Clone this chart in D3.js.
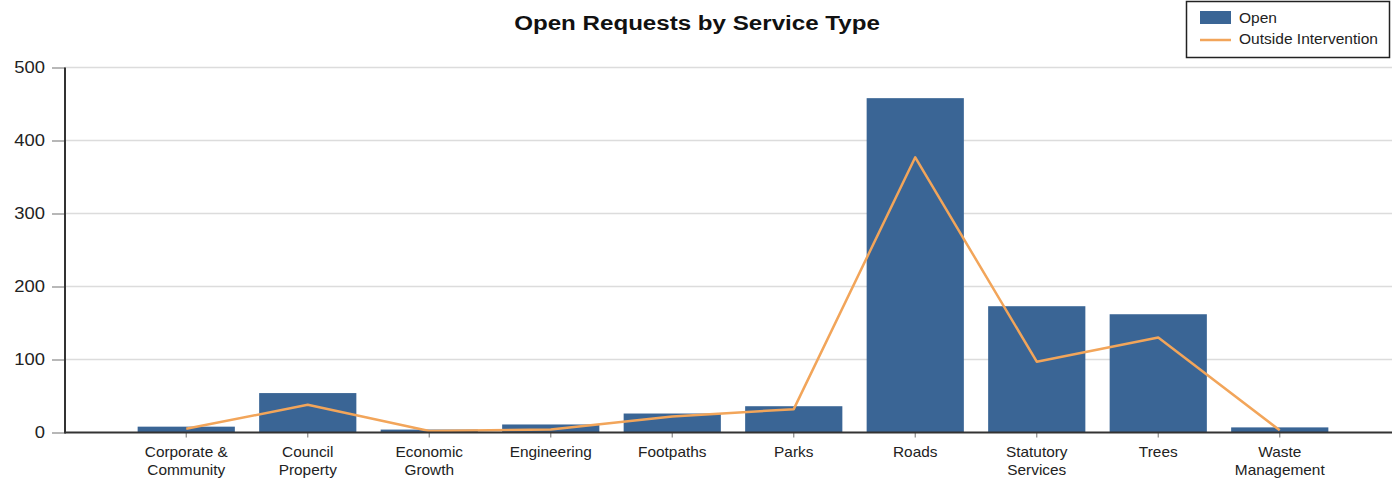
<!DOCTYPE html>
<html><head><meta charset="utf-8">
<script src="https://cdn.jsdelivr.net/npm/d3@7"></script>
<style>body{margin:0;background:#fff}svg{display:block;font-family:"Liberation Sans",Arial,sans-serif}</style>
</head><body><svg id="c" width="1392" height="482"></svg>
<script>
const categories = ["Corporate &\nCommunity","Council\nProperty","Economic\nGrowth","Engineering","Footpaths","Parks","Roads","Statutory\nServices","Trees","Waste\nManagement"];
const openValues = [8, 54, 4, 11, 26, 36, 458, 173, 162, 7];
const outsideValues = [5, 38, 2, 4, 22, 32, 377, 97, 130, 3];
const yTicks = [0, 100, 200, 300, 400, 500];
const seriesNames = ["Open", "Outside Intervention"];

const svg = d3.select("#c");
const x0 = 65, x1 = 1392, yTop = 67.5, yBase = 432.5;
const x = d3.scaleBand().domain(categories).range([125.5, 1340.5]).paddingInner(0.2).paddingOuter(0.1);
const y = d3.scaleLinear().domain([0, 500]).range([yBase, yTop]);

// gridlines
svg.append("g").selectAll("line").data(yTicks.filter(d => d > 0)).join("line")
  .attr("x1", x0).attr("x2", x1).attr("y1", d => y(d)).attr("y2", d => y(d))
  .attr("stroke", "#dcdcdc").attr("stroke-width", 1.5);

// bars
svg.append("g").selectAll("rect").data(categories).join("rect")
  .attr("x", d => x(d)).attr("width", x.bandwidth())
  .attr("y", (d, i) => y(openValues[i])).attr("height", (d, i) => yBase - y(openValues[i]))
  .attr("fill", "#3a6595");

// line
const line = d3.line().x((d, i) => x(categories[i]) + x.bandwidth() / 2).y(d => y(d));
svg.append("path").datum(outsideValues).attr("d", line)
  .attr("fill", "none").attr("stroke", "#f2a55a").attr("stroke-width", 2.5).attr("stroke-linejoin", "round");

// y axis
const ya = svg.append("g").attr("transform", `translate(${x0},0)`)
  .call(d3.axisLeft(y).tickValues(yTicks).tickSize(13).tickFormat(""));
ya.select(".domain").remove();
ya.selectAll(".tick line").attr("stroke", "#888").attr("stroke-width", 1.2);
svg.append("g").selectAll("text").data(yTicks).join("text")
  .attr("transform", d => `translate(45,${y(d)}) scale(1.15,1)`)
  .attr("text-anchor", "end").attr("dy", "0.35em").attr("font-size", 16).attr("fill", "#222").text(d => d);
svg.append("line").attr("x1", x0).attr("x2", x0).attr("y1", yTop).attr("y2", yBase + 1)
  .attr("stroke", "#333").attr("stroke-width", 2);

// x axis
const xa = svg.append("g").attr("transform", `translate(0,${yBase})`)
  .call(d3.axisBottom(x).tickSize(5).tickFormat(""));
xa.select(".domain").remove();
xa.selectAll(".tick line").attr("stroke", "#888").attr("stroke-width", 1.2);
svg.append("line").attr("x1", x0).attr("x2", x1).attr("y1", yBase).attr("y2", yBase)
  .attr("stroke", "#333").attr("stroke-width", 2);

const lbl = svg.append("g").selectAll("text").data(categories).join("text")
  .attr("text-anchor", "middle").attr("font-size", 14).attr("fill", "#222")
  .attr("transform", d => `translate(${x(d) + x.bandwidth() / 2},457) scale(1.1,1)`);
lbl.each(function(d) {
  const parts = d.split("\n");
  d3.select(this).selectAll("tspan").data(parts).join("tspan")
    .attr("x", 0).attr("dy", (p, i) => i === 0 ? 0 : 18).text(p => p);
});

// title
svg.append("text").attr("transform", "translate(697,30) scale(1.15,1)").attr("text-anchor", "middle")
  .attr("font-size", 21).attr("font-weight", "bold").attr("fill", "#111").text("Open Requests by Service Type");

// legend
const lg = svg.append("g");
lg.append("rect").attr("x", 1186.5).attr("y", 1.5).attr("width", 203).attr("height", 56)
  .attr("fill", "#fff").attr("stroke", "#222").attr("stroke-width", 1.5);
lg.append("rect").attr("x", 1200).attr("y", 11).attr("width", 31).attr("height", 13).attr("fill", "#3a6595");
lg.append("line").attr("x1", 1200).attr("x2", 1231).attr("y1", 40).attr("y2", 40).attr("stroke", "#f2a55a").attr("stroke-width", 2.5);
lg.selectAll("text.l").data(seriesNames).join("text").attr("class", "l")
  .attr("transform", (d, i) => `translate(1239,${23 + i * 21}) scale(1.11,1)`)
  .attr("font-size", 14).attr("fill", "#222").text(d => d);
</script></body></html>
